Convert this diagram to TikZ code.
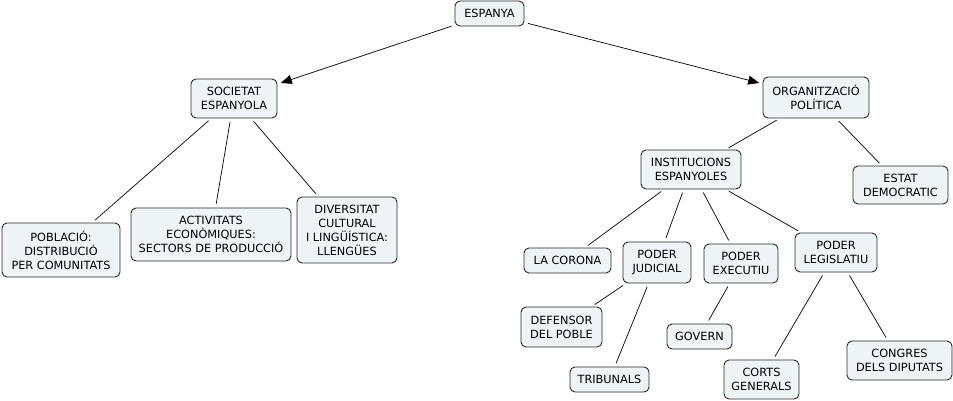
\documentclass[tikz,border=0pt]{standalone}
\usepackage{fontspec}
\setmainfont{DejaVu Sans}
\usetikzlibrary{arrows.meta}
\definecolor{boxfill}{RGB}{238,243,246}
\definecolor{boxline}{RGB}{40,40,40}
\begin{document}
\begin{tikzpicture}[x=1pt,y=-1pt,
  concept/.style={draw=boxline,fill=boxfill,rounded corners=5pt,line width=0.9pt,
    align=center,inner sep=0pt,font=\fontsize{11.3}{14}\selectfont},
  link/.style={draw=black,line width=0.7pt,shorten <=3.5pt,shorten >=3.5pt},
  arrowlink/.style={link,-{Triangle[length=11pt,width=9pt]}}]
\useasboundingbox (0,0) rectangle (953,401);
\node[concept,minimum width=69pt,minimum height=25pt] (esp) at (489.5,13.5) {ESPANYA};
\node[concept,minimum width=86pt,minimum height=39pt] (soc) at (234,98.5) {SOCIETAT\\ESPANYOLA};
\node[concept,minimum width=106pt,minimum height=41pt] (org) at (816,97.5) {ORGANITZACIÓ\\POLÍTICA};
\node[concept,minimum width=118pt,minimum height=54pt] (pob) at (61,250) {POBLACIÓ:\\DISTRIBUCIÓ\\PER COMUNITATS};
\node[concept,minimum width=160pt,minimum height=53pt] (act) at (211,234.5) {ACTIVITATS\\ECONÒMIQUES:\\SECTORS DE PRODUCCIÓ};
\node[concept,minimum width=100pt,minimum height=66pt] (div) at (347,230) {DIVERSITAT\\CULTURAL\\I LINGÜÍSTICA:\\LLENGÜES};
\node[concept,minimum width=100pt,minimum height=39pt] (ins) at (691,169.5) {INSTITUCIONS\\ESPANYOLES};
\node[concept,minimum width=95pt,minimum height=38pt] (est) at (900.5,185) {ESTAT\\DEMOCRATIC};
\node[concept,minimum width=87pt,minimum height=25pt] (cor) at (567.5,260.5) {LA CORONA};
\node[concept,minimum width=68pt,minimum height=41pt] (jud) at (657,262.5) {PODER\\JUDICIAL};
\node[concept,minimum width=74pt,minimum height=39pt] (exe) at (741,263.5) {PODER\\EXECUTIU};
\node[concept,minimum width=82pt,minimum height=39pt] (leg) at (836,252.5) {PODER\\LEGISLATIU};
\node[concept,minimum width=81pt,minimum height=40pt] (def) at (561.5,327) {DEFENSOR\\DEL POBLE};
\node[concept,minimum width=79pt,minimum height=25pt] (tri) at (609.5,379.5) {TRIBUNALS};
\node[concept,minimum width=65pt,minimum height=25pt] (gov) at (699.5,336.5) {GOVERN};
\node[concept,minimum width=75pt,minimum height=39pt] (cg) at (761.5,379.5) {CORTS\\GENERALS};
\node[concept,minimum width=105pt,minimum height=39pt] (cdd) at (899.5,360.5) {CONGRES\\DELS DIPUTATS};
\draw[arrowlink] (esp) -- (soc);
\draw[arrowlink] (esp) -- (org);
\draw[link] (soc) -- (pob);
\draw[link] (soc) -- (act);
\draw[link] (soc) -- (div);
\draw[link] (org) -- (ins);
\draw[link] (org) -- (est);
\draw[link] (ins) -- (cor);
\draw[link] (ins) -- (jud);
\draw[link] (ins) -- (exe);
\draw[link] (ins) -- (leg);
\draw[link] (jud) -- (def);
\draw[link] (jud) -- (tri);
\draw[link] (exe) -- (gov);
\draw[link] (leg) -- (cg);
\draw[link] (leg) -- (cdd);
\end{tikzpicture}
\end{document}
